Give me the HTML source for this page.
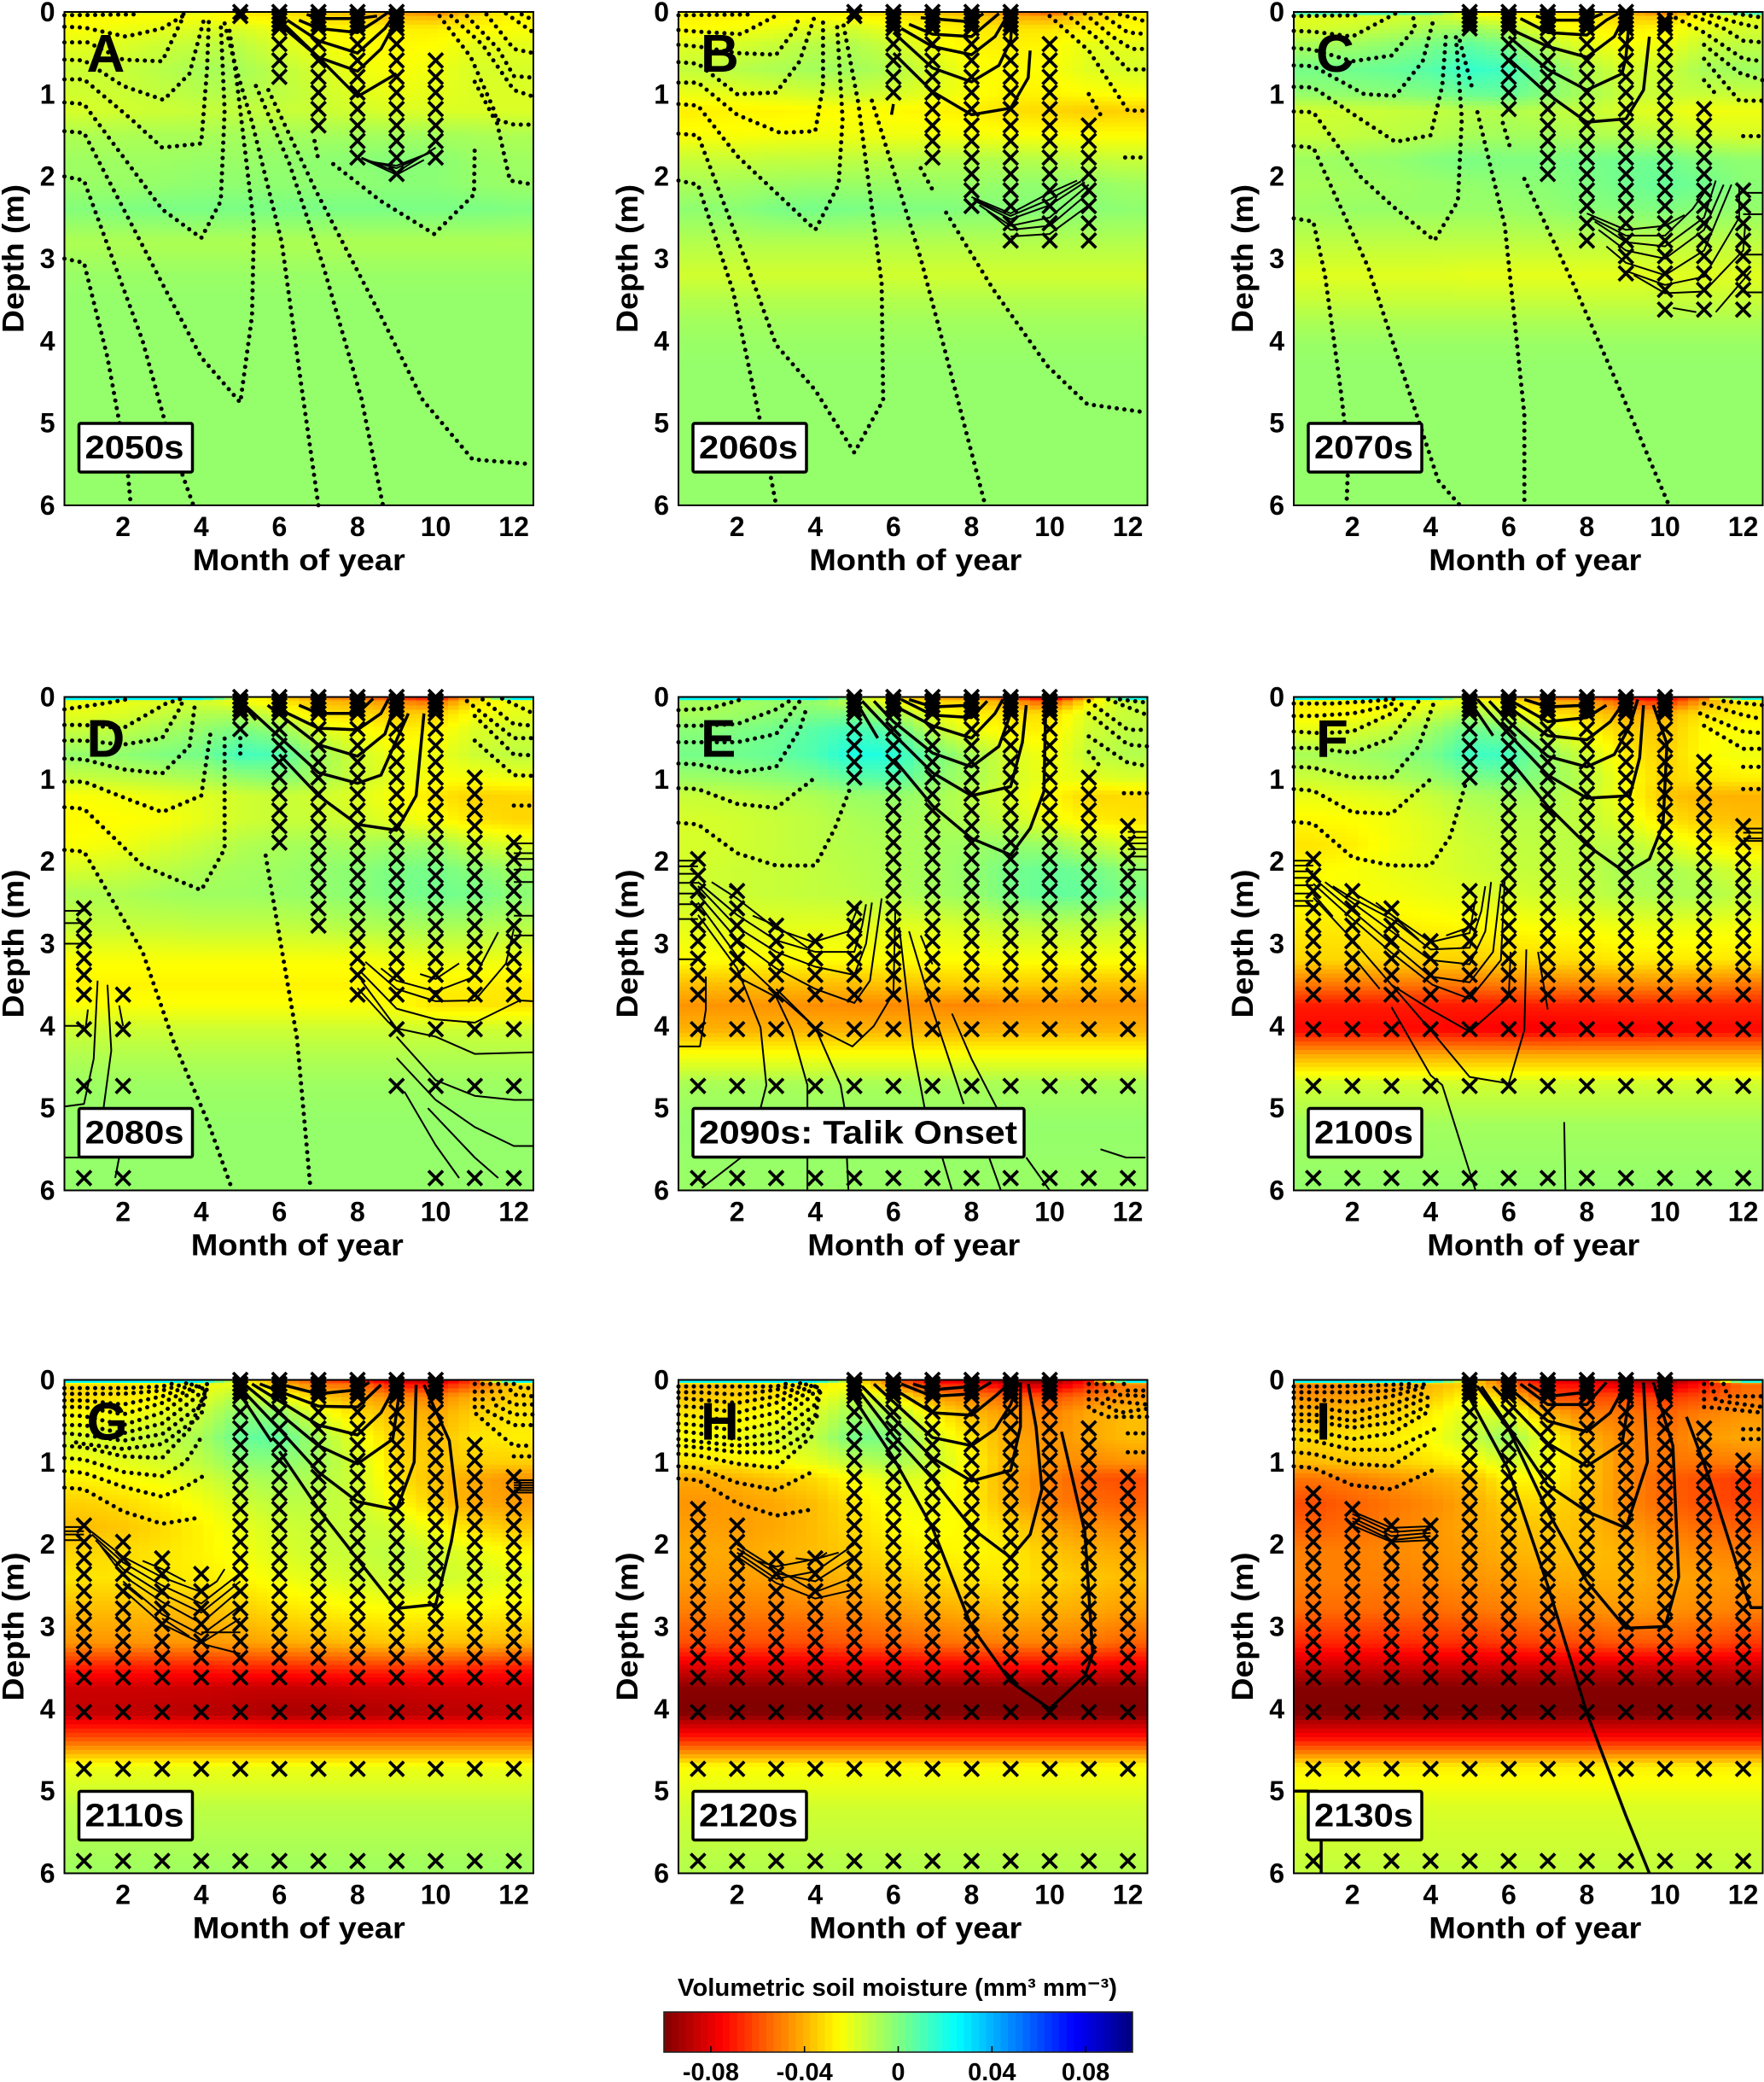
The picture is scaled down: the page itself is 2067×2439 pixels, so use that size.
<!DOCTYPE html>
<html lang="en">
<head>
<meta charset="utf-8">
<title>Volumetric soil moisture change by decade</title>
<style>
html,body{margin:0;padding:0;background:#fff;}
#figure{display:block;width:2067px;height:2439px;}
text{font-family:"Liberation Sans",Arial,sans-serif;font-weight:700;fill:#000;}
</style>
</head>
<body>
<svg id="figure" xmlns="http://www.w3.org/2000/svg" width="2067" height="2439" viewBox="0 0 2067 2439"></svg>
<script>
// Depth levels (m) of the moisture grids; months are always 1..12. Values are in 0.001 mm3/mm3.
const heatDepths=[0,.03,.2,.4,.7,1,1.2,1.5,1.8,2.1,2.4,2.8,3.2,3.5,3.75,4.05,4.35,4.7,5.2,6];
const soilDepths=[0,.05,.1,.15,.2,.39,.59,.79,.98,1.18,1.38,1.57,1.77,1.97,2.17,2.36,2.57,2.78,2.97,3.18,3.38,3.62,4.04,4.73,5.85];
const monthTicks=[2,4,6,8,10,12];
const depthTicks=[0,1,2,3,4,5,6];
const colorbarTicks=[-0.08,-0.04,0,0.04,0.08];
const colorbarTickLabels=['-0.08','-0.04','0','0.04','0.08'];

const moistureA=[
[-20,-20,-20,-20,-28,-30,-34,-38,-42,-48,-35,-25],
[-26,-26,-25,-25,-28,-30,-32,-36,-40,-42,-32,-27],
[-24,-22,-20,-18,-18,-22,-26,-27,-28,-28,-26,-24],
[-20,-18,-15,-13,-12,-18,-22,-25,-26,-25,-20,-20],
[-15,-14,-11,-8,-8,-12,-17,-22,-24,-22,-17,-17],
[-16,-15,-13,-11,-10,-12,-15,-19,-21,-20,-18,-18],
[-17,-16,-15,-14,-13,-14,-15,-16,-18,-18,-18,-18],
[-9,-9,-8,-8,-7,-7,-7,-7,-7,-7,-8,-9],
[-6,-6,-6,-5,-5,-4,-3,-2,-1,-2,-5,-6],
[-5,-5,-4,-3,-3,-3,-3,-3,-2,-2,-4,-5],
[-1,0,1,1,1,1,1,1,1,1,1,0],
[-9,-9,-9,-9,-9,-9,-9,-9,-9,-9,-9,-9],
[-5,-5,-5,-5,-5,-5,-5,-5,-5,-5,-5,-5],
[-4,-4,-4,-4,-4,-4,-4,-4,-4,-4,-4,-4],
[-4,-4,-4,-4,-4,-4,-4,-4,-4,-4,-4,-4],
[-4,-4,-4,-4,-4,-4,-4,-4,-4,-4,-4,-4],
[-4,-4,-4,-4,-4,-4,-4,-4,-4,-4,-4,-4],
[-4,-4,-4,-4,-4,-4,-4,-4,-4,-4,-4,-4],
[-4,-4,-4,-4,-4,-4,-4,-4,-4,-4,-4,-4],
[-4,-4,-4,-4,-4,-4,-4,-4,-4,-4,-4,-4]];
const moistureB=[
[-25,-25,-25,-25,-28,-32,-36,-40,-45,-55,-38,-28],
[-28,-28,-27,-26,-28,-30,-32,-36,-42,-45,-34,-28],
[-25,-23,-21,-18,-17,-22,-26,-28,-30,-30,-27,-25],
[-19,-17,-14,-11,-10,-15,-23,-27,-28,-26,-20,-20],
[-13,-11,-9,-7,-7,-10,-17,-23,-26,-24,-19,-17],
[-21,-20,-18,-16,-15,-17,-20,-24,-27,-27,-25,-24],
[-28,-27,-27,-26,-25,-26,-27,-28,-31,-33,-35,-34],
[-24,-24,-23,-22,-22,-22,-22,-23,-24,-24,-25,-25],
[-14,-14,-13,-13,-12,-11,-10,-10,-10,-11,-13,-14],
[-8,-7,-6,-5,-5,-5,-5,-5,-4,-3,-4,-6],
[-3,-2,1,2,1,0,0,-1,-1,-1,-2,-3],
[-10,-10,-10,-10,-10,-10,-10,-10,-10,-10,-10,-10],
[-16,-16,-16,-16,-16,-16,-16,-16,-16,-16,-16,-16],
[-10,-10,-10,-10,-10,-10,-10,-10,-10,-10,-10,-10],
[-7,-7,-7,-7,-7,-7,-7,-7,-7,-7,-7,-7],
[-5,-5,-5,-5,-5,-5,-5,-5,-5,-5,-5,-5],
[-4,-4,-4,-4,-4,-4,-4,-4,-4,-4,-4,-4],
[-4,-4,-4,-4,-4,-4,-4,-4,-4,-4,-4,-4],
[-4,-4,-4,-4,-4,-4,-4,-4,-4,-4,-4,-4],
[-4,-4,-4,-4,-4,-4,-4,-4,-4,-4,-4,-4]];
const moistureC=[
[10,10,10,5,-25,-28,-30,-32,-38,-50,-25,10],
[-20,-20,-18,-15,-22,-25,-28,-30,-35,-40,-26,-20],
[-17,-15,-12,-8,-6,-12,-22,-26,-28,-26,-20,-17],
[-8,-6,-3,1,6,1,-12,-20,-24,-22,-14,-12],
[2,3,5,8,15,12,0,-10,-17,-15,-8,-6],
[-4,-3,-2,0,4,5,-2,-8,-14,-14,-14,-14],
[-16,-15,-14,-13,-11,-10,-12,-14,-18,-20,-23,-22],
[-14,-13,-12,-10,-8,-7,-7,-9,-10,-12,-16,-17],
[-6,-5,-4,-1,1,0,0,2,3,3,-1,-3],
[-8,-7,-6,-5,-4,-3,-2,0,3,5,3,-2],
[-6,-5,-5,-5,-5,-5,-4,-2,-1,0,-2,-4],
[-12,-12,-12,-12,-12,-12,-12,-12,-12,-12,-12,-12],
[-19,-19,-19,-19,-20,-20,-20,-20,-20,-19,-19,-19],
[-14,-14,-14,-14,-14,-14,-14,-14,-14,-14,-14,-14],
[-9,-9,-9,-9,-9,-9,-9,-9,-9,-9,-9,-9],
[-5,-5,-5,-5,-5,-5,-5,-5,-5,-5,-5,-5],
[-4,-4,-4,-4,-4,-4,-4,-4,-4,-4,-4,-4],
[-4,-4,-4,-4,-4,-4,-4,-4,-4,-4,-4,-4],
[-4,-4,-4,-4,-4,-4,-4,-4,-4,-4,-4,-4],
[-4,-4,-4,-4,-4,-4,-4,-4,-4,-4,-4,-4]];
const moistureD=[
[25,25,25,25,-20,-30,-45,-50,-60,-70,-35,25],
[-22,-22,-20,-18,-25,-30,-40,-42,-50,-58,-32,-22],
[-20,-18,-14,-10,-10,-18,-30,-32,-35,-34,-24,-20],
[-14,-12,-8,-4,1,-4,-18,-24,-28,-27,-18,-16],
[-4,-3,0,2,12,10,-6,-16,-22,-22,-15,-12],
[-14,-13,-11,-9,-5,-2,-8,-15,-20,-24,-24,-22],
[-24,-23,-21,-19,-16,-14,-16,-19,-24,-30,-34,-33],
[-26,-25,-24,-20,-16,-14,-14,-16,-20,-24,-30,-33],
[-24,-22,-18,-14,-10,-8,-7,-8,-6,-6,-14,-18],
[-17,-15,-12,-9,-7,-6,-4,-2,1,2,-2,-6],
[-9,-9,-7,-6,-6,-5,-4,-2,1,3,2,-2],
[-14,-14,-14,-13,-13,-13,-12,-10,-9,-8,-9,-11],
[-24,-24,-24,-24,-24,-24,-24,-24,-22,-21,-21,-22],
[-27,-27,-27,-27,-27,-27,-27,-27,-26,-27,-28,-29],
[-24,-24,-24,-24,-24,-24,-24,-24,-24,-30,-30,-30],
[-15,-15,-15,-15,-15,-15,-15,-15,-15,-15,-15,-15],
[-10,-10,-10,-10,-10,-10,-10,-10,-10,-10,-10,-10],
[-6,-6,-6,-6,-6,-6,-6,-6,-6,-6,-6,-6],
[-4,-4,-4,-4,-4,-4,-4,-4,-4,-4,-4,-4],
[-4,-4,-4,-4,-4,-4,-4,-4,-4,-4,-4,-4]];
const moistureE=[
[25,25,25,25,-10,-25,-40,-45,-55,-80,-40,20],
[-8,-8,-6,-5,-15,-25,-35,-35,-45,-65,-30,-12],
[-8,-6,-3,0,0,-8,-22,-28,-30,-32,-18,-14],
[-2,0,3,8,12,6,-12,-22,-27,-28,-16,-12],
[2,3,5,10,20,18,2,-8,-17,-24,-13,-10],
[-6,-5,-3,0,6,8,-2,-8,-16,-22,-20,-18],
[-14,-13,-11,-9,-5,-4,-7,-12,-18,-26,-33,-32],
[-17,-16,-14,-12,-9,-7,-8,-10,-14,-22,-28,-30],
[-17,-16,-14,-12,-10,-9,-7,-6,-4,-5,-12,-17],
[-16,-15,-14,-13,-11,-9,-7,-4,2,5,3,-3],
[-15,-15,-14,-13,-12,-10,-7,-5,2,6,5,1],
[-20,-20,-20,-20,-20,-20,-19,-17,-14,-13,-13,-15],
[-25,-25,-25,-25,-25,-25,-25,-25,-24,-24,-24,-24],
[-38,-38,-38,-38,-38,-37,-36,-35,-35,-36,-38,-38],
[-46,-46,-46,-47,-48,-48,-48,-49,-47,-46,-46,-46],
[-40,-40,-40,-40,-40,-40,-40,-40,-40,-40,-40,-40],
[-24,-24,-24,-24,-24,-24,-24,-24,-24,-24,-24,-24],
[-8,-8,-8,-8,-8,-8,-8,-8,-8,-8,-8,-8],
[-4,-4,-4,-4,-4,-4,-4,-4,-4,-4,-4,-4],
[-5,-5,-5,-5,-5,-5,-5,-5,-5,-5,-5,-5]];
const moistureF=[
[25,25,25,25,-30,-30,-50,-55,-70,-75,-50,20],
[-28,-28,-26,-24,-20,-30,-42,-45,-60,-72,-45,-28],
[-27,-25,-22,-15,-8,-15,-30,-34,-40,-40,-30,-28],
[-20,-18,-13,-6,4,0,-16,-26,-34,-36,-26,-24],
[-8,-7,-4,1,13,13,-4,-16,-28,-34,-25,-22],
[-15,-13,-10,-6,0,2,-4,-12,-24,-33,-30,-28],
[-21,-20,-18,-14,-9,-7,-8,-14,-24,-36,-40,-40],
[-26,-25,-22,-18,-13,-11,-11,-13,-20,-30,-35,-38],
[-30,-28,-23,-19,-15,-13,-12,-12,-12,-18,-25,-30],
[-26,-24,-21,-19,-16,-14,-13,-12,-8,-8,-12,-18],
[-24,-24,-23,-21,-19,-17,-15,-13,-10,-9,-9,-13],
[-29,-29,-28,-27,-26,-25,-24,-23,-22,-21,-22,-23],
[-33,-33,-33,-34,-34,-33,-32,-31,-29,-29,-29,-30],
[-52,-52,-52,-52,-52,-51,-50,-49,-48,-48,-50,-52],
[-70,-70,-70,-70,-70,-70,-69,-69,-68,-68,-68,-68],
[-74,-74,-74,-74,-75,-76,-77,-76,-76,-75,-74,-74],
[-42,-42,-42,-42,-42,-42,-42,-42,-42,-42,-42,-42],
[-16,-16,-16,-16,-16,-16,-16,-16,-16,-16,-16,-16],
[-7,-7,-7,-7,-7,-7,-7,-7,-7,-7,-7,-7],
[-4,-4,-4,-4,-4,-4,-4,-4,-4,-4,-4,-4]];
const moistureG=[
[25,25,25,25,-25,-40,-60,-65,-80,-85,-60,25],
[-32,-32,-28,-24,-22,-40,-55,-55,-75,-78,-60,-34],
[-32,-30,-26,-20,-10,-20,-36,-42,-48,-50,-40,-34],
[-26,-24,-20,-14,-2,-4,-20,-32,-38,-42,-34,-30],
[-18,-16,-13,-8,5,7,-8,-22,-34,-38,-30,-28],
[-22,-20,-17,-12,-3,-2,-7,-17,-32,-36,-34,-34],
[-27,-25,-22,-17,-10,-7,-10,-16,-30,-38,-42,-46],
[-34,-32,-28,-23,-16,-12,-12,-15,-24,-35,-42,-44],
[-38,-36,-32,-27,-21,-16,-14,-14,-16,-24,-32,-36],
[-33,-32,-30,-27,-23,-18,-15,-14,-12,-16,-20,-26],
[-30,-30,-29,-28,-26,-22,-19,-16,-14,-15,-17,-20],
[-38,-38,-38,-38,-35,-31,-28,-26,-25,-26,-26,-28],
[-46,-46,-46,-45,-44,-42,-40,-38,-36,-37,-38,-40],
[-70,-70,-70,-70,-68,-68,-66,-65,-65,-66,-68,-70],
[-85,-85,-85,-85,-86,-86,-86,-85,-85,-84,-84,-84],
[-87,-87,-88,-89,-90,-92,-92,-91,-90,-89,-88,-87],
[-60,-60,-60,-60,-60,-60,-60,-60,-60,-60,-60,-60],
[-22,-22,-22,-22,-22,-22,-22,-22,-22,-22,-22,-22],
[-12,-12,-12,-12,-12,-12,-12,-12,-12,-12,-12,-12],
[-6,-6,-6,-6,-6,-6,-6,-6,-6,-6,-6,-6]];
const moistureH=[
[25,25,25,25,-25,-50,-75,-80,-90,-95,-70,25],
[-38,-38,-34,-30,-26,-50,-72,-72,-85,-92,-70,-50],
[-36,-34,-30,-24,-14,-25,-45,-50,-55,-60,-52,-46],
[-30,-28,-24,-18,-6,-10,-28,-38,-45,-50,-42,-38],
[-24,-22,-18,-12,2,1,-17,-30,-42,-46,-42,-38],
[-30,-28,-24,-20,-12,-8,-14,-26,-40,-46,-48,-46],
[-42,-40,-36,-32,-24,-18,-20,-28,-42,-50,-58,-60],
[-46,-44,-42,-38,-30,-23,-22,-28,-40,-50,-54,-56],
[-44,-44,-42,-38,-32,-26,-24,-26,-32,-42,-46,-48],
[-42,-42,-40,-38,-35,-30,-27,-26,-28,-36,-40,-42],
[-44,-44,-43,-41,-39,-35,-32,-30,-29,-33,-36,-38],
[-50,-50,-50,-49,-48,-45,-42,-40,-38,-40,-42,-44],
[-60,-60,-60,-60,-58,-56,-54,-52,-50,-50,-52,-56],
[-82,-82,-82,-82,-80,-80,-78,-78,-76,-76,-78,-80],
[-98,-98,-98,-98,-98,-98,-98,-98,-98,-98,-98,-98],
[-100,-100,-100,-100,-100,-100,-100,-100,-100,-100,-100,-100],
[-70,-70,-70,-70,-70,-70,-70,-70,-70,-70,-70,-70],
[-25,-25,-25,-25,-25,-25,-25,-25,-25,-25,-25,-25],
[-16,-16,-16,-16,-16,-16,-16,-16,-16,-16,-16,-16],
[-10,-10,-10,-10,-10,-10,-10,-10,-10,-10,-10,-10]];
const moistureI=[
[25,25,25,25,-30,-55,-78,-80,-85,-95,-75,20],
[-50,-48,-45,-40,-35,-55,-75,-75,-85,-92,-72,-55],
[-46,-44,-40,-36,-25,-35,-60,-62,-60,-65,-60,-52],
[-40,-38,-34,-28,-18,-18,-40,-50,-52,-56,-50,-46],
[-32,-30,-28,-24,-14,-4,-24,-40,-48,-52,-45,-42],
[-38,-36,-34,-30,-26,-16,-22,-36,-48,-52,-52,-50],
[-52,-50,-46,-42,-38,-26,-26,-36,-48,-56,-60,-64],
[-60,-56,-52,-48,-42,-34,-32,-38,-48,-55,-60,-62],
[-56,-54,-50,-46,-42,-38,-36,-38,-44,-50,-54,-56],
[-50,-50,-48,-46,-44,-40,-38,-38,-40,-46,-48,-50],
[-50,-50,-50,-48,-46,-44,-42,-40,-40,-43,-44,-46],
[-54,-54,-54,-54,-52,-50,-48,-47,-45,-46,-48,-50],
[-68,-68,-68,-66,-66,-64,-62,-60,-58,-58,-60,-64],
[-86,-86,-86,-86,-86,-86,-86,-86,-86,-86,-86,-86],
[-99,-99,-99,-99,-99,-99,-99,-99,-99,-99,-99,-99],
[-100,-100,-100,-100,-100,-100,-100,-100,-100,-100,-100,-100],
[-74,-74,-74,-74,-74,-74,-74,-74,-74,-74,-74,-74],
[-28,-28,-28,-28,-28,-28,-28,-28,-28,-28,-28,-28],
[-18,-18,-18,-18,-18,-18,-18,-18,-18,-18,-18,-18],
[-13,-13,-13,-13,-13,-13,-13,-13,-13,-13,-13,-13]];

// Contours are flat month,depth sequences. Dotted = negative-temperature isotherms, solid = positive.
const dottedA=[[.5,.04,2.3,.03],[.5,.18,1,.19,2.07,.3,3,.2,3.6,.03],[.5,.37,1.1,.37,2,.58,3,.6,3.5,.1,3.55,.02],[.5,.58,1,.59,2,.9,3.04,1.07,3.7,.75,4.1,.04],[.5,.82,1,.82,2.2,1.3,3,1.65,4,1.6,4.15,.7,4.2,.05],[.5,1.1,1,1.12,3,2.4,4,2.75,4.5,2.3,4.6,1.2,4.5,.15],[.5,1.45,1,1.47,3,3.3,4,4.2,5,4.75,5.3,3.7,5.35,2.6,4.9,.8,4.7,.15],[.5,2,1,2.05,2.5,4,3.2,5.2,3.8,6],[.5,3,1,3.05,1.6,4.2,2.1,5.5,2.2,6],[4.6,.14,4.9,.7,5.3,1.34,6.06,2.8,6.55,4.5,7,6],[5.4,.9,6.26,1.85,7.13,3.1,8.1,4.7,8.65,6],[5.72,.95,6.94,2.18,8.6,3.7,9.67,4.72,10.94,5.44,12.45,5.5],[6.9,1.57,7,1.8],[7.38,1.85,8.6,2.3,9.96,2.7,10.98,2.22,11,1.62],[11,.85,11.5,1.3,12,1.37,12.5,1.37],[10.1,.05,10.9,.55,11.5,1.2,11.9,2.05,12.5,2.1],[10.4,.05,11.2,.4,12,.95,12.5,1.03],[10.8,.05,11.6,.45,12,.78,12.5,.8],[11.3,.03,12,.45,12.5,.5],[11.8,.02,12.5,.25],[12.2,.03,12.5,.1]];
const thickA=[[5.9,.05,7,.55,8,1.03,9,.75],[6,.15,7,.55,8,.72,8.6,.45,9,.1,9.1,0],[6.2,.1,7,.35,8,.5,8.7,.2,9,0],[6.5,.1,7,.2,8,.25,8.5,.1,8.8,0],[6.7,.03,7,.08,8,.08,8.5,.05]];
const thinA=[[8.1,1.77,9,1.95,10,1.65],[8.2,1.8,9,1.9,9.9,1.7],[8.3,1.82,9,1.87,9.8,1.72],[8.1,1.78,9,1.98,9.7,1.8]];
const crossesA=[[5,0,.05],[6,0,.79],[7,0,1.38],[8,0,1.77],[9,0,1.97],[10,.5,1.77]];

const dottedB=[[.5,.04,2.4,.03],[.5,.22,1,.24,2.1,.27,3.1,.02],[.5,.4,1,.42,2,.5,3,.52,3.5,.2,3.6,.03],[.5,.61,1,.63,2,1,3,.98,3.6,.6,4,.03],[.5,.86,1,.86,2,1.25,3.1,1.47,4,1.45,4.2,.9,4.2,.1],[.5,1.12,1,1.14,2,1.75,3,2.2,4,2.65,4.6,2.1,4.7,1.3,4.55,.1],[.5,1.48,1,1.5,2.2,3,3,4.05,4,4.6,5,5.36,5.74,4.72,5.7,3.3,5.1,1.1,4.7,.1],[.5,2.05,1,2.1,1.9,3.4,2.6,5,3,6],[5.45,1.08,6.7,3,7.2,3.9,8.35,6],[6.7,1.9,7,2.16],[7.35,2.44,8.55,3.37,9.93,4.3,10.96,4.77,12.45,4.87],[11.93,1.77,12.45,1.77],[11,1,11.3,1.25],[10,.05,11,.47,12,1.2,12.5,1.2],[10.4,.02,11.3,.35,12,.7,12.5,.7],[10.9,.02,11.6,.3,12.1,.45,12.5,.45],[11.3,.02,12,.25,12.5,.27],[11.8,.03,12.5,.12]];
const thickB=[[6,.5,7,.97,8,1.25,9,1.17,9.45,.8,9.5,.47],[6,.25,7,.68,8,.85,8.7,.65,9,.35,9.05,.02],[6.2,.2,7,.42,8,.52,8.6,.3,8.95,.02],[6.4,.15,7,.27,8,.3,8.5,.1,8.7,.02],[6.7,.07,8,.12,8.3,.02],[6,1.12,5.95,1.25]];
const thinB=[[8,2.25,9,2.45,10,2.2,10.7,2.05],[8.1,2.3,9,2.52,10,2.35,10.9,2.07],[8.2,2.35,9,2.6,10,2.5,11,2.1],[8.4,2.42,9,2.65,10,2.6,11,2.2],[9,2.73,10,2.7,11,2.35],[8.05,2.28,9,2.48,10,2.28,10.8,2.06]];
const crossesB=[[5,0,.05],[6,0,.98],[7,0,1.77],[8,0,2.36],[9,0,2.78],[10,.39,2.78],[11,1.38,2.78]];

const dottedC=[[.5,.05,2.2,.04],[.5,.23,1,.24,2,.3,3.1,.02],[.5,.44,1,.46,2,.6,3,.53,3.6,.2,3.55,.05],[.5,.65,1,.66,2.3,1,3.1,1.02,3.8,.6,4.1,.05],[.5,.91,1,.92,2.2,1.3,3.1,1.58,4,1.5,4.3,.9,4.4,.25],[.5,1.21,1,1.22,2.2,2,3,2.35,4.1,2.78,4.7,2.3,4.8,1.3,4.65,.3],[.5,1.63,1,1.65,2.4,3.1,3.3,4.4,4.2,5.7,4.75,6],[.5,2.51,1,2.55,1.3,3.2,1.7,4.6,1.9,5.4,1.85,6],[4.75,.35,5.05,.9],[5.2,1.22,5.9,2.6,6.4,4.9,6.4,6],[5.85,1.35,6.05,1.67],[6.4,2.03,7.6,3.25,8.85,4.6,10.1,6],[12,1.51,12.5,1.51],[11,.83,11.3,1],[11,.57,11.9,1.08,12.5,1.08],[11,.4,11.9,.74,12.5,.83],[10.1,.03,11,.25,12,.57,12.5,.6],[10.6,.02,11.5,.2,12,.35,12.5,.37],[11,.02,12,.15,12.5,.2],[11.8,.02,12.5,.07]];
const thickC=[[6,.57,7,1,8,1.34,9,1.3,9.45,.95,9.6,.3],[6,.3,7,.7,8,.95,8.9,.75,9,.55,9.1,.02],[6,.2,7,.42,8,.55,8.7,.3,9,.02],[6.3,.08,7,.25,8,.28,8.5,.1,8.8,.02],[6.7,.05,7,.1,8,.1,8.4,.02]];
const thinC=[[8,2.45,9,2.65,10,2.6,10.5,2.47],[8.1,2.5,9,2.72,10,2.72,10.7,2.4,11,2.2],[8.2,2.55,9,2.8,10,2.85,11,2.5,11.3,2.05],[8.3,2.65,9,2.9,10,3,11,2.65,11.5,2.1],[8.5,2.85,9,3.05,10,3.2,11,2.9,11.7,2.1],[9,3.15,10,3.32,11,3.22,11.9,2.5,11.9,2.1],[9.2,3.2,10,3.42,11,3.4,12,2.9,12.05,2.6],[10.2,3.6,10.8,3.65],[11.3,3.65,12.2,3.15],[12,2.2,12.5,2.2],[12,2.46,12.5,2.46],[12,2.95,12.5,2.95],[12,3.41,12.5,3.41]];
const crossesC=[[5,0,.2],[6,0,1.18],[7,0,1.97],[8,0,2.78],[9,0,3.18],[10,.1,3.62],[11,1.18,3.62],[12,2.17,3.62]];

const dottedD=[[.5,.15,1.5,.08,2.2,.02],[.5,.34,1,.34,2,.38,3.1,.08,3.5,.02],[.5,.53,1,.53,2,.58,3,.5,3.5,.1,3.5,.02],[.5,.75,1,.76,2,.88,3,.93,3.7,.6,3.85,.05],[.5,1.03,1,1.03,2,1.22,3,1.4,4,1.2,4.25,.4],[.5,1.34,1,1.36,2.5,2.05,4,2.35,4.6,1.85,4.6,.5],[.5,1.86,1,1.88,2.5,3.1,3.3,4.2,4.2,5.2,4.8,6],[5,.5,5,.75],[5.65,1.93,6.45,4.15,6.8,6],[11,.53,12,.95,12.5,.96],[11,.23,12,.7,12.5,.71],[10.8,.05,12,.5,12.5,.5],[11.2,.03,12,.33,12.5,.35],[11.7,.02,12.5,.2],[12,1.32,12.5,1.32]];
const thickD=[[6,.7,7,1.2,8,1.55,9,1.62,9.5,1.2,9.7,.2],[5,.05,7,.92,8,1.05,8.6,.95,9.3,.2],[5.7,.1,7,.58,8,.72,8.7,.45,9,.03],[6,.15,7,.38,8,.4,8.6,.2,8.8,.02],[6.5,.1,7,.2,8,.2,8.4,.02],[5,.05,5.4,.28]];
const thinD=[[.5,2.6,1,2.6],[.5,2.75,1,2.75],[.5,3,1,3],[.5,4,1,4],[.5,5.6,1,5.6],[1.35,3.45,1.25,4.4,1,4.95,.5,4.98],[1.1,3.8,1.05,4],[1.6,3.5,1.7,4.3,1.5,5],[1.9,3.75,2,4],[1.9,5.6,1.8,5.85],[8.6,3.3,9,3.45,10,3.58,11,3.4,11.6,2.86],[9.6,3.37,10,3.43,10.6,3.24],[8.2,3.22,9,3.55,10,3.7,11,3.69,11.8,3.24,12,2.82],[8.1,3.35,9,3.79,10,3.92,11,3.96,12.15,3.69,12.5,3.7],[8.1,3.45,9,4.03,10,4.13,11,4.34,12.5,4.32],[8,3.54,8.8,3.96],[9,4.13,10,4.66,11,4.85,12,4.9,12.5,4.9],[9,4.39,10,4.9,11,5.23,12,5.46,12.5,5.46],[9.2,4.8,10,5.45,10.6,5.85],[9.8,5,11,5.6,11.6,5.85],[12,1.78,12.5,1.78],[12,1.9,12.5,1.9],[12,1.97,12.5,1.97],[12,2.1,12.5,2.1],[12,2.25,12.5,2.25],[12,2.66,12.5,2.66],[12,2.9,12.5,2.9]];
const crossesD=[[1,2.57,3.62],[1,4.04,5.85],[2,3.62,5.85],[5,0,.39],[6,0,1.77],[7,0,2.78],[8,0,3.62],[9,0,4.73],[10,0,5.85],[11,.98,5.85],[12,1.77,5.85]];

const dottedE=[[.5,.16,1.3,.14,2.1,.03],[.5,.35,1,.35,2,.33,3,.15,3.4,.03],[.5,.55,1,.55,2,.55,3,.45,3.55,.08,3.65,.03],[.5,.81,1,.82,2,.92,3,.85,3.6,.4,3.8,.1],[.5,1.11,1,1.12,2,1.3,3,1.35,4,.98],[.5,1.53,1,1.55,2,1.9,3,2.05,4,2.05,4.5,1.6,4.9,1.1],[11,.67,11.3,.85],[11,.48,12,.8,12.5,.84],[11,.2,12,.58,12.5,.6],[11,.05,12,.4,12.5,.4],[11.5,.03,12.5,.22],[11.9,1.17,12.5,1.17],[11.8,.03,12.5,.07]];
const thickE=[[6,.75,7,1.32,8,1.72,9,1.92,9.5,1.6,9.85,1.15,9.9,.1],[5.2,.05,6,.45,7,.92,8,1.2,9,1.09,9.3,.55,9.4,.1],[5.5,.05,6,.3,7,.68,8,.85,8.7,.6,9,.2,9.1,.03],[5.8,.05,7,.35,8,.5,8.6,.2,8.8,.03],[6.2,.03,7,.22,8,.25,8.4,.05],[6.4,.03,7,.12,8,.1],[5.1,.1,5.6,.5]];
const thinE=[[.5,1.99,1,1.99],[.5,2.06,1,2.06],[.5,2.15,1,2.15],[.5,2.26,1,2.26],[.5,2.39,1,2.39],[.5,2.52,1,2.52],[.5,2.7,1,2.7],[.5,3.19,1,3.19],[.5,4.25,1.05,4.25,1.2,3.8,1.2,3.4],[1,2.5,2,3.15,3,3.6,4,4.02,4.95,4.25,5.5,4,6,3.6,6.05,2.6],[1,2.4,2,2.95,3,3.3,4,3.55,5,3.72,5.4,3.45,5.7,2.45],[1,2.3,2,2.8,3,3.1,4,3.28,5,3.38,5.3,3,5.45,2.5],[1,2.25,2,2.65,3,2.96,4,3.1,5,3.1,5.2,2.78,5.3,2.52],[1.35,2.25,2,2.45,3,2.82,3.95,2.98,4.85,2.85,5.1,2.55],[1.8,2.3,2.1,2.4],[2.4,2.66,3,2.78,3.8,3.05],[1,2.65,2,3.3,2.6,4.02,2.75,4.72,2.6,5,2.1,5.6,1.1,5.97],[2,3.4,3,3.65,3.4,4.05,3.8,4.72,3.8,6],[3,3.55,4,4.02,4.65,4.72,4.75,5,4.85,6],[6.15,2.8,6.5,4.25,6.8,5],[6.4,2.85,7,3.8,7.8,4.95],[6.7,2.9,7,3.25],[7.5,3.85,8,4.4,8.65,5],[7.25,5.6,7.5,6],[8.45,5.6,8.75,6],[9.4,5.6,10,6],[11.3,5.5,11.95,5.6,12.45,5.6],[12,1.64,12.5,1.64],[12,1.71,12.5,1.71],[12,1.78,12.5,1.78],[12,1.85,12.5,1.85],[12,1.94,12.5,1.94],[12,2.1,12.5,2.1]];
const crossesE=[[1,1.97,5.85],[2,2.36,5.85],[3,2.78,5.85],[4,2.97,5.85],[5,0,.98],[5,2.57,5.85],[6,0,5.85],[7,0,5.85],[8,0,5.85],[9,0,5.85],[10,0,5.85],[11,.98,5.85],[12,1.57,5.85]];

const dottedF=[[.5,.08,1.5,.08,2.5,.05,3.2,.02],[.5,.23,1,.23,2,.2,3,.1,3,.04],[.5,.42,1.2,.44,2,.42,3,.2,3.4,.03],[.5,.62,1,.62,2,.68,3,.5,3.7,.05],[.5,.85,1,.86,2,.98,3,.98,3.7,.6,4.1,.05],[.5,1.12,1,1.14,2,1.4,3,1.42,4,1],[.5,1.52,1,1.54,2,1.95,3,2.05,4,2.05,4.5,1.7,4.9,1.05],[11,.35,12,.63,12.5,.63],[10.9,.2,12,.42,12.5,.44],[11,.08,12,.22,12.5,.27],[11.5,.05,12.5,.1],[12,.85,12.5,.85],[12,1.12,12.5,1.12]];
const thickF=[[6,.75,7,1.33,8,1.8,9,2.14,9.6,1.97,9.95,1.55,10.05,.57,9.7,.1],[5.2,.03,6,.45,7,.95,8,1.23,9.1,1.2,9.35,.74,9.45,.1],[5.5,.05,6,.3,7,.72,8,.85,8.7,.7,9.1,.35,9.3,.03],[5.8,.05,7,.47,8,.52,8.6,.3,9,.03],[6,.03,7,.3,8,.25,8.5,.1],[6.4,.03,7,.12,8,.1],[5.1,.12,5.6,.47]];
const thinF=[[.5,1.99,1,1.99],[.5,2.05,1,2.05],[.5,2.12,1,2.12],[.5,2.2,1,2.2],[.5,2.29,1,2.29],[.5,2.39,1,2.39],[.5,2.48,1,2.48],[.5,2.54,1,2.54],[1,2.27,2,2.7,3,3.11,4.05,3.5,5,3.67,5.8,3.2,5.9,2.2],[1,2.44,2,2.95,3,3.5,4,3.8,5,4.07,6,3.65,6.05,3.1],[2,3.15,2.7,3.55],[3,3.5,4,4.05,5,4.62,6,4.7,6.4,4.05,6.45,3.07],[3,3.77,4,4.6,4.3,4.72,5.15,6],[6.75,3.1,7,3.8],[7.42,5.17,7.45,6],[1,2.2,2,2.6,3,3,4,3.4,5,3.47,5.6,3.1,5.8,2.27],[1.3,2.25,2,2.5,3,2.85,4,3.2,5,3.25,5.4,2.85,5.55,2.25],[1.5,2.3,2,2.45,3,2.7,4,3.07,5,3.05,5.3,2.6,5.4,2.3],[1.9,2.35,3,2.65,4,2.98,5,2.87,5.15,2.45],[2.6,2.5,3,2.65,3.7,2.95],[4.4,2.9,5,2.8],[1,2.4,1.5,2.67],[12,1.6,12.5,1.6],[12,1.65,12.5,1.65],[12,1.72,12.5,1.72],[12,1.75,12.5,1.75]];
const crossesF=[[1,1.97,5.85],[2,2.36,5.85],[3,2.57,5.85],[4,2.97,5.85],[5,0,.98],[5,2.36,5.85],[6,0,5.85],[7,0,5.85],[8,0,5.85],[9,0,5.85],[10,0,5.85],[11,.79,5.85],[12,1.57,5.85]];

const dottedG=[[.5,.1,1,.1,2,.1,3,.08,3.4,.03],[.5,.17,1,.17,2,.17,3,.13,3.7,.03],[.5,.25,1,.25,2,.3,3,.2,3.9,.03],[.5,.33,1,.33,2,.42,3,.28,4,.05],[.5,.43,1,.44,2,.55,3,.4,3.9,.1,4.1,.04],[.5,.55,1,.55,2,.65,3,.53,3.9,.2,4.1,.05],[.5,.65,1,.67,2,.74,3,.66,4,.3,4.15,.05],[.8,.76,1,.78,2,.84,3,.78,4,.43,4.15,.1],[.5,.8,1,.82,2,.93,3,.95,3.7,.6,4.1,.15],[.5,.95,1,.97,2,1.12,3,1.17,3.6,1,4,.7],[.5,1.11,1,1.13,2,1.3,3,1.42,3.6,1.3,4.05,1.17],[.5,1.31,1,1.33,2,1.6,3,1.75,3.9,1.68],[11,.05,11,.4,11.6,.65,12,.8,12.5,.8],[11.2,.05,11.2,.35,12,.55,12.5,.55],[11.4,.05,11.5,.3,12,.42,12.5,.42],[11.6,.05,11.7,.22,12,.3,12.5,.3],[11.8,.05,12,.18,12.5,.2],[12,.05,12.2,.1,12.5,.1],[12,.93,12.5,.93]];
const thickG=[[6,.87,7,1.57,8,2.18,9,2.78,10,2.73,10.4,1.97,10.55,1.55,10.35,.74,9.7,.06],[5,.1,6,.6,7,1.12,8,1.48,9,1.58,9.45,1,9.5,.06],[5.1,.05,7,.8,8,1.02,8.9,.72,9.1,.06],[5.3,.05,7,.55,8,.67,8.6,.4,9,.05],[5.5,.05,7,.32,8,.33,8.6,.06],[6,.05,7,.17,8,.12,8.3,.03],[5,.18,5.8,.75]];
const thinG=[[.5,1.79,1,1.79],[.5,1.84,1,1.84],[.5,1.88,1,1.88],[.5,1.95,1,1.95],[1.2,1.85,2,2.15,3,2.4,4,2.58,4.4,2.45,4.6,2.3],[1.2,1.88,2,2.22,3,2.5,4,2.72,5,2.35],[1.3,1.95,2,2.3,3,2.6,4,2.83,5,2.45],[1.4,2,2,2.38,3,2.7,4,2.96,5,2.55],[2,2.45,3,2.85,4,3.1,5,2.75],[2,2.55,3,2.97,4,3.2,5,2.9],[2,2.48,2.5,2.67],[2.5,2.2,3,2.3,3.6,2.45],[3,2.9,3.7,3.12],[4,3.07,5,3.07],[4.1,3.22,5,3.33],[12,1.22,12.5,1.22],[12,1.25,12.5,1.25],[12,1.28,12.5,1.28],[12,1.31,12.5,1.31],[12,1.34,12.5,1.34],[12,1.37,12.5,1.37]];
const crossesG=[[1,1.77,5.85],[2,1.97,5.85],[3,2.17,5.85],[4,2.36,5.85],[5,0,5.85],[6,0,5.85],[7,0,5.85],[8,0,5.85],[9,0,5.85],[10,0,5.85],[11,.79,5.85],[12,1.18,5.85]];

const dottedH=[[.5,.08,2,.08,3,.08,3.4,.03],[.5,.15,1,.15,2,.18,3,.12,3.7,.03],[.5,.22,1,.24,2,.28,3,.2,3.9,.03],[.5,.32,1,.33,2,.4,3,.28,4,.05],[.5,.42,1,.45,2,.5,3,.4,3.9,.12,4.1,.03],[.5,.53,1,.55,2,.62,3,.52,3.9,.2,4.1,.04],[.5,.62,1,.65,2,.72,3,.65,4,.3,4.15,.05],[.5,.72,1,.75,2,.8,3,.76,4,.43,4.15,.1],[.5,.8,1,.82,2,.88,3,.88,3.7,.68,4.1,.4],[.5,.9,1,.92,2,1.02,3,1.07,4,.65],[.5,1.05,1,1.07,2,1.25,3,1.34,4,1.1],[.5,1.2,1,1.22,2,1.5,3,1.65,4,1.57],[11,.05,11,.35,11.5,.45,12.5,.45],[11.2,.05,11.2,.25,11.8,.4,12.5,.35],[11.4,.05,11.5,.25,12.5,.3],[11.6,.05,11.7,.18,12.5,.2],[11.9,.05,12,.13,12.5,.13],[12,.65,12.5,.65],[12,.88,12.5,.88]];
const thickH=[[5,.23,6,.95,7,1.8,8,3,9,3.67,10,4,10.9,3.6,11.1,3.33,10.9,1.85,10.3,.63],[5.1,.12,6,.68,7,1.2,8,1.8,9,2.16,9.5,1.88,9.8,1.33,9.65,.57,9.45,.05],[5.2,.08,7,.95,8,1.23,9,1.1,9.25,.57,9.25,.03],[5.5,.05,7,.7,8,.8,8.6,.6,9,.3,9.2,.03],[5.8,.05,7,.4,8,.43,8.6,.2,9,.03],[6.2,.05,7,.2,8,.17,8.5,.03],[6.5,.05,7,.12,8,.08]];
const thinH=[[2,2,3,2.3,4,2.58,5,2.4],[2,2.05,3,2.35,4,2.45,5,2.15],[2,2.1,3,2.42,4,2.33,5,2],[2,2.15,3,2.47,4,2.66,5,2.55],[2.5,2.2,3,2.27,4,2.18,4.6,2.1],[3.5,2.17,4,2.2,4.3,2.1]];
const crossesH=[[1,1.57,5.85],[2,1.77,5.85],[3,2.17,5.85],[4,2.17,5.85],[5,0,5.85],[6,0,5.85],[7,0,5.85],[8,0,5.85],[9,0,5.85],[10,0,5.85],[11,.59,5.85],[12,1.18,5.85]];

const dottedI=[[.5,.08,1.5,.08,2.5,.07,3.5,.05],[.5,.15,1,.15,2,.15,3,.13,3.9,.05],[.5,.22,1,.24,2,.27,3,.2,3.9,.08],[.5,.33,1,.33,2,.4,3,.3,3.9,.15],[.5,.42,1,.42,2,.5,3,.4,4,.2],[.5,.5,1,.5,2,.58,3,.52,4,.3],[.5,.6,1,.62,2,.72,3,.65,3.9,.4],[.5,.72,1,.74,2,.85,3,.85,4.1,.6],[.5,.88,1,.9,2,1.02,3,1.05,4,.75],[.5,1.05,1,1.07,2,1.28,3,1.33,4.05,1.1],[11,.05,11,.33,11.5,.35,12.5,.4],[11.2,.05,11.3,.25,12.5,.33],[11.5,.05,11.6,.2,12.5,.2],[12,.6,12.5,.6],[12,.72,12.5,.72]];
const thickI=[[5,.22,6,1.1,7,2.5,8,4.05,9,5.3,9.6,6],[5.2,.08,6,.6,7,1.6,8,2.45,9,3.02,10,3,10.35,2.4,10.2,.8,9.7,.03],[5.3,.08,7,1.28,8,1.6,9,1.8,9.55,1,9.45,.03],[5.6,.08,7,.77,8,1.05,8.9,.77,9.15,.03],[5.9,.05,7,.5,8,.63,8.6,.4,9,.05],[6.3,.05,7,.3,8,.3,8.5,.03],[6.5,.05,7,.2,8,.15],[10.55,.45,11.1,1.15,12.1,2.65,12.2,2.77,12.5,2.77],[.5,5,1.1,5,1.2,5.6,1.2,6]];
const thinI=[[2,1.63,3,1.85,4,1.82],[2,1.68,3,1.9,4,1.86],[2,1.72,3,1.95,4,1.9],[2,1.77,3,1.97,4,1.95],[2,1.6,3,1.8,4,1.78]];
const crossesI=[[1,1.38,5.85],[2,1.57,5.85],[3,1.77,5.85],[4,1.77,5.85],[5,0,5.85],[6,0,5.85],[7,0,5.85],[8,0,5.85],[9,0,5.85],[10,0,5.85],[11,.59,5.85],[12,.98,5.85]];

const panelLetters=['A','B','C','D','E','F','G','H','I'];
const panelTitles=['2050s','2060s','2070s','2080s','2090s: Talik Onset','2100s','2110s','2120s','2130s'];
const panelMoisture=[moistureA,moistureB,moistureC,moistureD,moistureE,moistureF,moistureG,moistureH,moistureI];
const panelDotted=[dottedA,dottedB,dottedC,dottedD,dottedE,dottedF,dottedG,dottedH,dottedI];
const panelThick=[thickA,thickB,thickC,thickD,thickE,thickF,thickG,thickH,thickI];
const panelThin=[thinA,thinB,thinC,thinD,thinE,thinF,thinG,thinH,thinI];
const panelCrosses=[crossesA,crossesB,crossesC,crossesD,crossesE,crossesF,crossesG,crossesH,crossesI];

const SVG_NS='http://www.w3.org/2000/svg';
const figure=document.getElementById('figure');
const COLUMN_LEFT=[75.5,795,1516];
const ROW_TOP=[14,816.5,1616.5];
const X_TITLE_SHIFT=[0,3,8];
const PLOT_W=549.5, PLOT_H=578;
const COLS=44, ROWS=116;

function make(tag,attrs,parent){
  const el=document.createElementNS(SVG_NS,tag);
  for(const k in attrs) el.setAttribute(k,attrs[k]);
  parent.appendChild(el);
  return el;
}
// Reversed jet: -100 dark red, 0 green, +100 dark blue (values in 0.001 units).
function jetColor(v){
  const t=Math.max(0,Math.min(1,1-(v+100)/200));
  const band=(c)=>Math.max(0,Math.min(1,1.5-Math.abs(4*t-c)));
  const r=band(3),g=band(2),b=band(1);
  return 'rgb('+Math.round(r*255)+','+Math.round(g*255)+','+Math.round(b*255)+')';
}
function sampleGrid(grid,month,depth){
  const m=Math.max(1,Math.min(12,month))-1;
  const m0=Math.min(10,Math.floor(m)), mf=m-m0;
  let i=0;
  while(i<heatDepths.length-2 && heatDepths[i+1]<depth) i++;
  const df=Math.max(0,Math.min(1,(depth-heatDepths[i])/(heatDepths[i+1]-heatDepths[i])));
  const a=grid[i][m0]*(1-mf)+grid[i][m0+1]*mf;
  const b=grid[i+1][m0]*(1-mf)+grid[i+1][m0+1]*mf;
  return a*(1-df)+b*df;
}
function drawLines(group,lines,xScale,yScale,style,name){
  lines.forEach(function(line){
    let pts='';
    for(let i=0;i<line.length;i+=2) pts+=xScale(line[i]).toFixed(1)+','+yScale(line[i+1]).toFixed(1)+' ';
    const el=make('polyline',Object.assign({points:pts,fill:'none',stroke:'#000','stroke-linejoin':'round'},style),group);
    
    
  });
}
function drawText(parent,str,x,y,size,anchor,fit){
  const attrs={x:x,y:y,'font-size':size,'text-anchor':anchor};
  if(fit){attrs.textLength=fit;attrs.lengthAdjust='spacingAndGlyphs';}
  const el=make('text',attrs,parent);
  el.textContent=str;
  return el;
}

panelLetters.forEach(function(letter,p){
  const left=COLUMN_LEFT[p%3], top=ROW_TOP[Math.floor(p/3)];
  const xScale=(m)=>left+(m-0.5)/12*PLOT_W;
  const yScale=(d)=>top+d/6*PLOT_H;
  const low=letter.toLowerCase();

  const g=make('g',{},figure);
  
  

  const heat=make('g',{'shape-rendering':'crispEdges'},g);
  
  
  const cw=PLOT_W/COLS, ch=PLOT_H/ROWS;
  for(let r=0;r<ROWS;r++){
    const d=(r+0.5)/ROWS*6;
    for(let c=0;c<COLS;c++){
      const m=0.5+(c+0.5)/COLS*12;
      const cell=make('rect',{x:(left+c*cw).toFixed(2),y:(top+r*ch).toFixed(2),width:(cw+0.6).toFixed(2),height:(ch+0.6).toFixed(2),fill:jetColor(sampleGrid(panelMoisture[p],m,d))},heat);
      
      
    }
  }
  // Thin surface layer drawn from the top row of the grid.
  for(let c=0;c<COLS;c++){
    const m=0.5+(c+0.5)/COLS*12;
    const skin=make('rect',{x:(left+c*cw).toFixed(2),y:top,width:(cw+0.6).toFixed(2),height:3.5,fill:jetColor(sampleGrid(panelMoisture[p],m,0))},heat);
    
    
  }

  const contours=make('g',{},g);
  
  
  drawLines(contours,panelDotted[p],xScale,yScale,{'stroke-width':5,'stroke-dasharray':'0 9','stroke-linecap':'round'},'dotted-contour');
  drawLines(contours,panelThin[p],xScale,yScale,{'stroke-width':2},'thin-contour');
  drawLines(contours,panelThick[p],xScale,yScale,{'stroke-width':3.5},'thick-contour');

  const crosses=make('g',{stroke:'#000','stroke-width':3.7,fill:'none'},g);
  
  
  panelCrosses[p].forEach(function(range){
    soilDepths.forEach(function(d){
      if(d<range[1]-0.001||d>range[2]+0.001) return;
      const x=xScale(range[0]), y=yScale(d), s=8.5;
      const mark=make('path',{d:'M'+(x-s)+' '+(y-s)+'L'+(x+s)+' '+(y+s)+'M'+(x-s)+' '+(y+s)+'L'+(x+s)+' '+(y-s)},crosses);
      
      
    });
  });

  const frame=make('rect',{x:left,y:top,width:PLOT_W,height:PLOT_H,fill:'none',stroke:'#000','stroke-width':2},g);
  
  

  const title=panelTitles[p];
  const wide=title.length>6;
  const box=make('rect',{x:left+17,y:top+482,width:wide?388:133,height:57,rx:2,fill:'#fff',stroke:'#000','stroke-width':3.5},g);
  
  
  const titleText=drawText(g,title,left+24,top+523,38,'start',wide?373:116);
  
  

  const letterText=drawText(g,letter,left+26,top+70,62,'start');
  
  

  monthTicks.forEach(function(m){
    const t=drawText(g,String(m),xScale(m),top+PLOT_H+36,32,'middle');
    
    
  });
  depthTicks.forEach(function(d){
    const t=drawText(g,String(d),left-11,yScale(d)+11,32,'end');
    
    
  });
  const xTitle=drawText(g,'Month of year',left+PLOT_W/2+X_TITLE_SHIFT[p%3]-(p>=3&&p<6?2:0),top+PLOT_H+76,35,'middle',249);
  
  
  const yTitle=drawText(g,'Depth (m)',0,0,35,'middle',174);
  yTitle.setAttribute('transform','translate('+(left-48)+','+(top+PLOT_H/2)+') rotate(-90)');
  
  
});

// Colorbar
const cbar=make('g',{},figure);


const CB_L=778, CB_W=549, CB_T=2357, CB_H=47, CB_STEPS=64;
const cbX=(v)=>CB_L+(v+0.1)/0.2*CB_W;
for(let i=0;i<CB_STEPS;i++){
  const v=-100+(i+0.5)*200/CB_STEPS;
  const seg=make('rect',{x:(CB_L+i*CB_W/CB_STEPS).toFixed(2),y:CB_T,width:(CB_W/CB_STEPS+0.6).toFixed(2),height:CB_H,fill:jetColor(v),'shape-rendering':'crispEdges'},cbar);
  
  
}
const cbFrame=make('rect',{x:CB_L,y:CB_T,width:CB_W,height:CB_H,fill:'none',stroke:'#222','stroke-width':1.6},cbar);


colorbarTicks.forEach(function(v,i){
  const tick=make('line',{x1:cbX(v),x2:cbX(v),y1:CB_T+CB_H-7,y2:CB_T+CB_H,stroke:'#000','stroke-width':1.6},cbar);
  
  
  const lab=drawText(cbar,colorbarTickLabels[i],cbX(v),2437,29,'middle');
  
  
});
const cbTitle=drawText(cbar,'Volumetric soil moisture (mm³ mm⁻³)',794,2338,29,'start',515);


</script>
</body>
</html>
